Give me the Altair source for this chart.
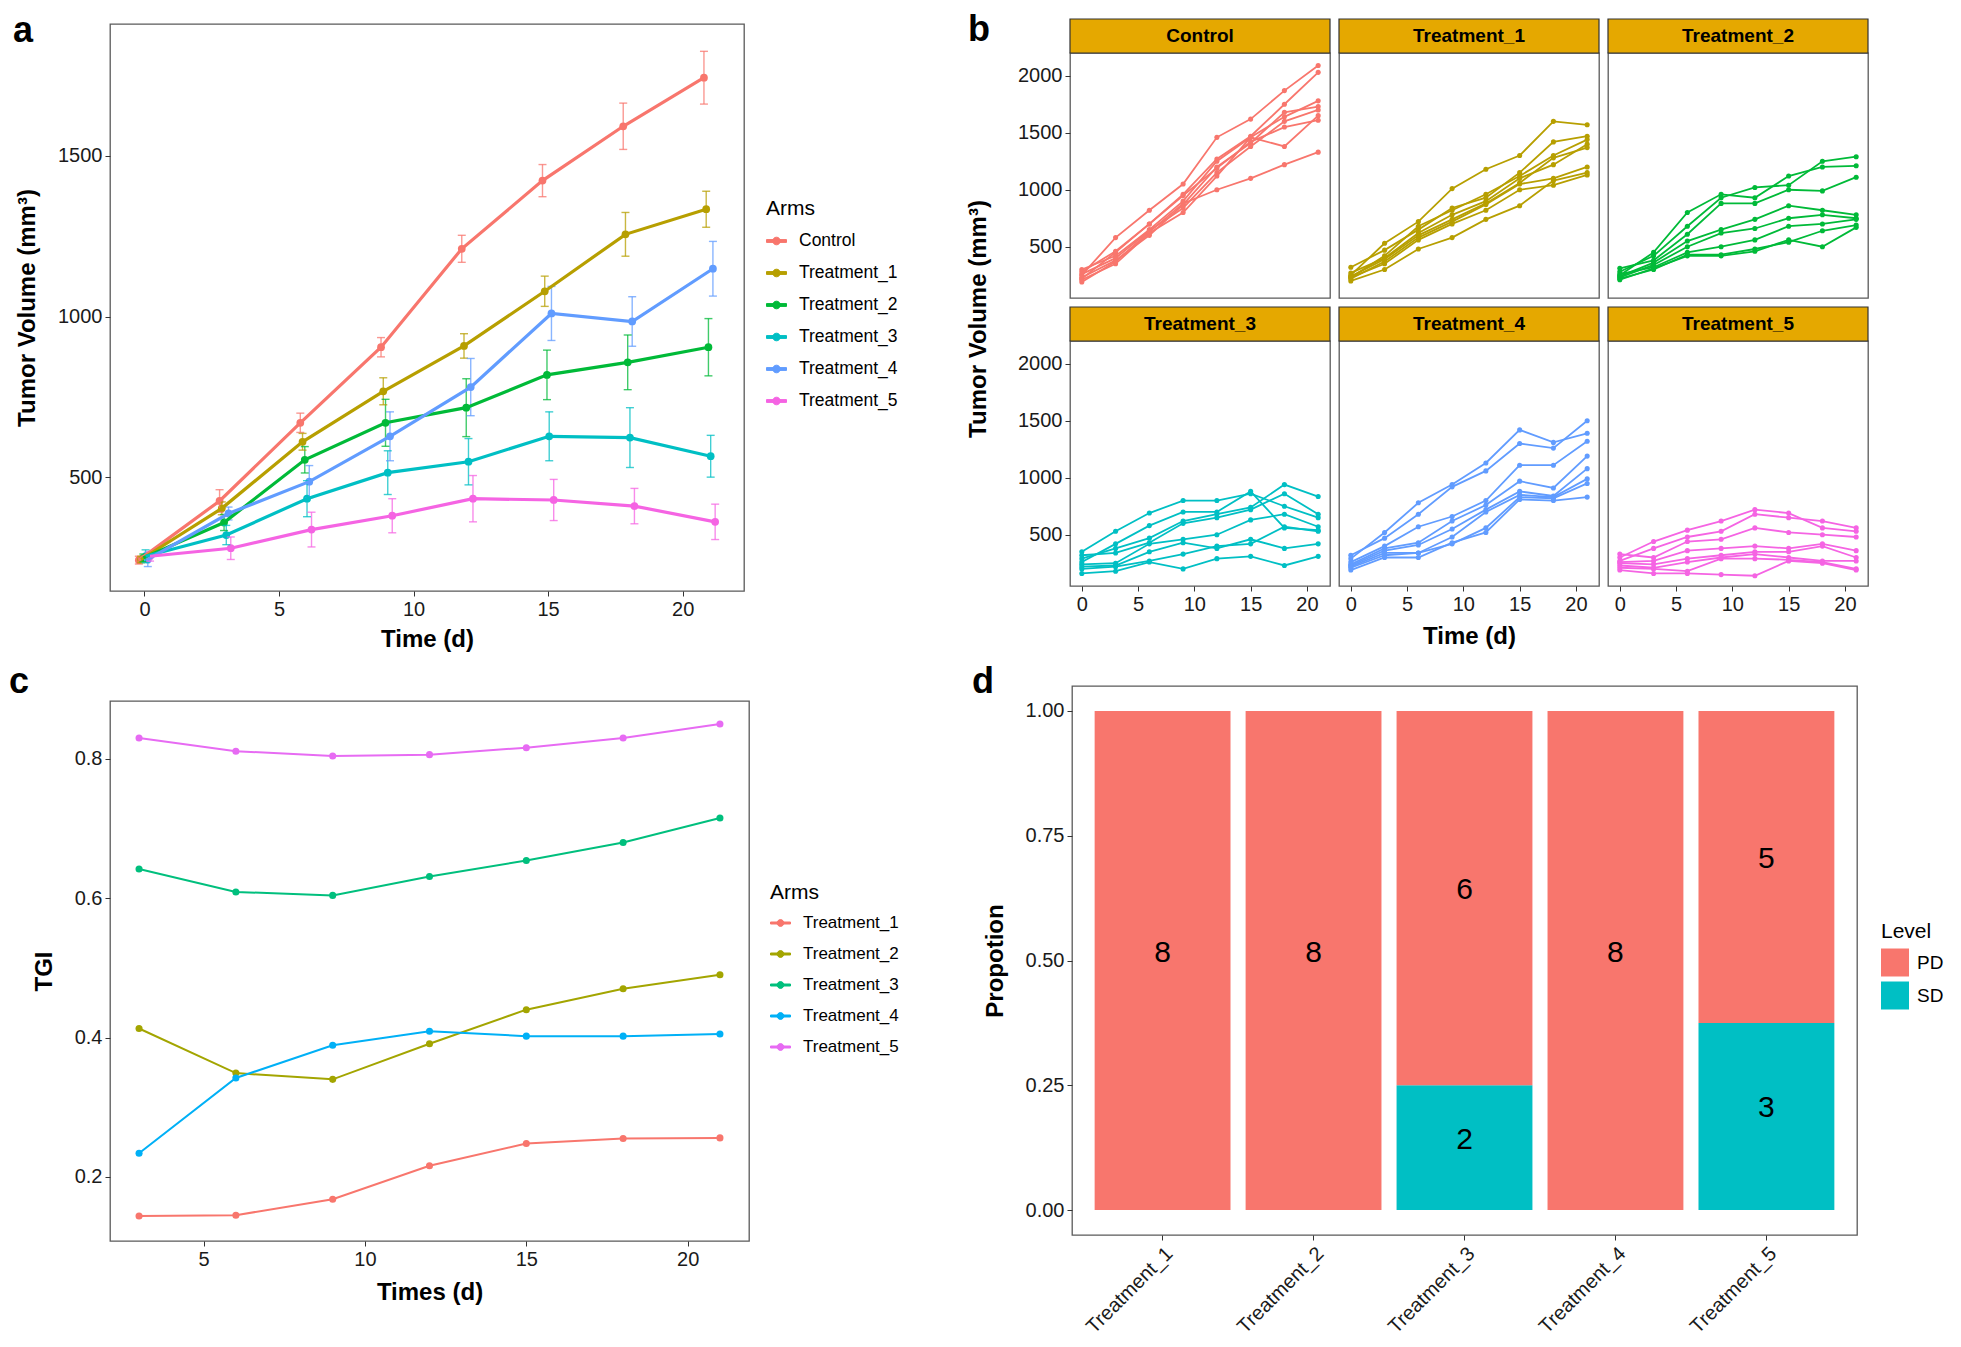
import altair as alt
import pandas as pd

FONT = "Liberation Sans"
TIMES = [0, 3, 6, 9, 12, 15, 18, 21]
ARMS6 = ["Control", "Treatment_1", "Treatment_2", "Treatment_3", "Treatment_4", "Treatment_5"]
ARMS5 = ["Treatment_1", "Treatment_2", "Treatment_3", "Treatment_4", "Treatment_5"]
COLORS6 = ["#F8766D", "#B79F00", "#00BA38", "#00BFC4", "#619CFF", "#F564E3"]
COLORS5 = ["#F8766D", "#A3A500", "#00BF7D", "#00B0F6", "#E76BF3"]
LEVELS = ["PD", "SD"]
LEVEL_COLORS = ["#F8766D", "#00BFC4"]
STRIP = "#E5A800"

# ---- (a) mean tumour volume and error-bar half width per arm
MEAN_CONTROL = [243, 427, 670, 905, 1211, 1423, 1592, 1743]
MEAN_T1 = [245, 404, 611, 768, 909, 1079, 1256, 1334]
MEAN_T2 = [250, 360, 555, 670, 717, 819, 858, 905]
MEAN_T3 = [255, 321, 434, 515, 549, 628, 624, 566]
MEAN_T4 = [245, 388, 487, 628, 781, 1010, 985, 1149]
MEAN_T5 = [255, 280, 338, 381, 434, 430, 411, 362]
ERR_CONTROL = [12, 35, 30, 30, 42, 50, 72, 82]
ERR_T1 = [10, 20, 26, 42, 38, 47, 68, 56]
ERR_T2 = [12, 25, 41, 73, 90, 77, 85, 89]
ERR_T3 = [20, 30, 56, 68, 72, 76, 93, 65]
ERR_T4 = [22, 20, 50, 76, 89, 84, 77, 85]
ERR_T5 = [15, 35, 54, 53, 72, 64, 55, 55]

# ---- (b) individual mice
MICE_CONTROL = [
    [250, 580, 820, 1050, 1460, 1620, 1870, 2090],
    [220, 450, 700, 960, 1270, 1470, 1750, 2030],
    [300, 420, 650, 900, 1250, 1460, 1640, 1780],
    [230, 380, 600, 870, 1200, 1410, 1680, 1730],
    [260, 400, 640, 840, 1150, 1380, 1600, 1700],
    [210, 350, 620, 800, 1120, 1460, 1380, 1650],
    [280, 460, 700, 950, 1190, 1420, 1550, 1610],
    [190, 370, 630, 880, 1000, 1100, 1220, 1330],
]
MICE_T1 = [
    [250, 530, 720, 1010, 1180, 1300, 1600, 1570],
    [320, 470, 650, 840, 930, 1150, 1420, 1470],
    [230, 420, 680, 820, 960, 1120, 1300, 1440],
    [270, 400, 620, 780, 900, 1100, 1220, 1400],
    [240, 390, 600, 740, 880, 1060, 1280, 1370],
    [220, 370, 580, 720, 870, 1050, 1100, 1200],
    [230, 350, 560, 700, 820, 1000, 1040, 1130],
    [200, 300, 480, 580, 740, 860, 1080, 1150],
]
MICE_T2 = [
    [280, 420, 680, 930, 1020, 1040, 1250, 1290],
    [250, 450, 800, 960, 930, 1120, 1200, 1210],
    [310, 380, 610, 880, 880, 1000, 990, 1110],
    [240, 360, 550, 650, 740, 860, 820, 780],
    [230, 340, 500, 620, 660, 750, 780, 750],
    [260, 320, 450, 500, 560, 680, 700, 740],
    [220, 300, 430, 430, 480, 540, 640, 690],
    [210, 310, 420, 420, 460, 560, 500, 670],
]
MICE_T3 = [
    [350, 530, 690, 800, 800, 860, 750, 650],
    [260, 420, 580, 700, 700, 880, 560, 540],
    [290, 380, 470, 620, 680, 740, 940, 835],
    [320, 340, 430, 600, 650, 720, 860, 680],
    [240, 250, 420, 460, 500, 630, 680, 570],
    [220, 230, 350, 430, 380, 460, 380, 420],
    [200, 220, 270, 330, 400, 420, 570, 530],
    [160, 180, 260, 200, 290, 310, 230, 310],
]
MICE_T4 = [
    [290, 520, 780, 940, 1130, 1420, 1310, 1390],
    [320, 470, 680, 920, 1060, 1300, 1260, 1500],
    [260, 400, 570, 660, 800, 1110, 1110, 1320],
    [240, 380, 430, 620, 760, 970, 910, 1190],
    [230, 360, 410, 550, 720, 880, 840, 1080],
    [220, 340, 340, 480, 700, 850, 830, 990],
    [210, 320, 340, 420, 560, 830, 820, 950],
    [190, 300, 300, 430, 520, 810, 800, 830],
]
MICE_T5 = [
    [300, 440, 540, 620, 720, 690, 560, 530],
    [270, 380, 480, 530, 680, 650, 620, 560],
    [330, 300, 440, 460, 560, 520, 500, 480],
    [260, 270, 360, 380, 400, 380, 420, 360],
    [250, 240, 290, 320, 350, 350, 400, 300],
    [230, 210, 260, 300, 330, 300, 270, 270],
    [210, 200, 180, 290, 290, 280, 260, 200],
    [190, 160, 160, 150, 140, 270, 250, 190],
]

# ---- (c) TGI
TGI_TIMES = [3, 6, 9, 12, 15, 18, 21]
TGI_T1 = [0.144, 0.145, 0.168, 0.216, 0.248, 0.255, 0.256]
TGI_T2 = [0.413, 0.349, 0.340, 0.391, 0.440, 0.470, 0.490]
TGI_T3 = [0.642, 0.609, 0.604, 0.631, 0.654, 0.680, 0.715]
TGI_T4 = [0.234, 0.342, 0.389, 0.409, 0.402, 0.402, 0.405]
TGI_T5 = [0.830, 0.811, 0.804, 0.806, 0.816, 0.830, 0.850]

# ---- (d) response counts
PD_COUNTS = [8, 8, 6, 8, 5]
SD_COUNTS = [0, 0, 2, 0, 3]

LEG_PATH_A = "M-1,-0.14L1,-0.14L1,0.14L-1,0.14Z M0.38,0A0.38,0.38,0,1,1,-0.38,0A0.38,0.38,0,1,1,0.38,0Z"
LEG_PATH_C = "M-1,-0.1L1,-0.1L1,0.1L-1,0.1Z M0.34,0A0.34,0.34,0,1,1,-0.34,0A0.34,0.34,0,1,1,0.34,0Z"


def tag(letter, x, y):
    return alt.Chart(pd.DataFrame({"tag": [letter]})).mark_text(
        font=FONT, fontSize=36, fontWeight="bold", align="left",
        baseline="alphabetic", color="black"
    ).encode(x=alt.value(x), y=alt.value(y), text="tag:N")


def spacer():
    return alt.Chart(pd.DataFrame({"s": pd.Series([], dtype="float")})).mark_point(opacity=0).encode(
        x=alt.value(0), y=alt.value(0)
    ).properties(width=1, height=1, view=alt.ViewBackground(stroke="transparent"))


# ================= panel a =================
W_A, H_A = 634, 567
MEANS_A = [MEAN_CONTROL, MEAN_T1, MEAN_T2, MEAN_T3, MEAN_T4, MEAN_T5]
ERRS_A = [ERR_CONTROL, ERR_T1, ERR_T2, ERR_T3, ERR_T4, ERR_T5]
a_rows = []
for i, arm in enumerate(ARMS6):
    for t, m, e in zip(TIMES, MEANS_A[i], ERRS_A[i]):
        a_rows.append({"arm_a": arm, "t": t + (i - 2.5) * 0.0833, "v": m, "lo": m - e, "hi": m + e})
df_a = pd.DataFrame(a_rows)

xa = alt.X("t:Q", scale=alt.Scale(domain=[-1.28, 22.28], nice=False, zero=False),
           axis=alt.Axis(values=[0, 5, 10, 15, 20], title="Time (d)", titlePadding=8))


def ya(field):
    return alt.Y(field, scale=alt.Scale(domain=[147, 1910], nice=False, zero=False),
                 axis=alt.Axis(values=[500, 1000, 1500], format="d",
                               title="Tumor Volume (mm³)", titlePadding=18))


LEG_A = alt.Legend(title="Arms", orient="none", legendX=W_A + 22, legendY=173.5,
                   symbolType=LEG_PATH_A, symbolSize=400, symbolStrokeWidth=1,
                   titleFontSize=21, labelFontSize=17.5, rowPadding=13, titlePadding=12,
                   labelOffset=12)
ca = alt.Color("arm_a:N", scale=alt.Scale(domain=ARMS6, range=COLORS6), legend=LEG_A)

base_a = alt.Chart(df_a)
a_pt = base_a.mark_circle(size=60, opacity=1).encode(x=xa, y=ya("v:Q"), color=ca)
a_err = base_a.mark_rule(strokeWidth=1.4, opacity=0.75).encode(x=xa, y=ya("lo:Q"), y2="hi:Q", color=ca)
a_cap_lo = base_a.mark_tick(orient="horizontal", size=8, thickness=1.4, opacity=0.75).encode(
    x=xa, y=ya("lo:Q"), color=ca)
a_cap_hi = base_a.mark_tick(orient="horizontal", size=8, thickness=1.4, opacity=0.75).encode(
    x=xa, y=ya("hi:Q"), color=ca)
a_line = base_a.mark_line(strokeWidth=3.2).encode(x=xa, y=ya("v:Q"), color=ca)
panel_a = alt.layer(a_pt, a_err, a_cap_lo, a_cap_hi, a_line, tag("a", -97, 17.5)).properties(
    width=W_A, height=H_A)

# ================= panel b =================
W_B, H_B, STRIP_H = 260, 245, 34
MICE_B = [MICE_CONTROL, MICE_T1, MICE_T2, MICE_T3, MICE_T4, MICE_T5]


def b_cell(idx):
    arm = ARMS6[idx]
    colr = COLORS6[idx]
    rows = []
    for k, series in enumerate(MICE_B[idx], start=1):
        for t, v in zip(TIMES, series):
            rows.append({"mouse": k, "t": t, "v": v})
    df = pd.DataFrame(rows)
    r, c = divmod(idx, 3)
    x_axis = alt.Axis(values=[0, 5, 10, 15, 20], title="Time (d)" if idx == 4 else None,
                      titlePadding=10) if r == 1 else None
    y_axis = alt.Axis(values=[500, 1000, 1500, 2000], format="d", title=None) if c == 0 else None
    x = alt.X("t:Q", scale=alt.Scale(domain=[-1.05, 22.05], nice=False, zero=False), axis=x_axis)
    y = alt.Y("v:Q", scale=alt.Scale(domain=[50, 2200], nice=False, zero=False), axis=y_axis)
    lines = alt.Chart(df).mark_line(color=colr, strokeWidth=1.8).encode(x=x, y=y, detail="mouse:N")
    pts = alt.Chart(df).mark_circle(color=colr, size=26, opacity=1).encode(x=x, y=y)
    sdf = pd.DataFrame({"label": [arm]})
    strip = alt.Chart(sdf).mark_rect(fill=STRIP, stroke="#333333", strokeWidth=1.2).encode(
        x=alt.value(0), x2=alt.value(W_B), y=alt.value(-STRIP_H), y2=alt.value(0))
    strip_txt = alt.Chart(sdf).mark_text(font=FONT, fontSize=19, fontWeight="bold", color="black",
                                         baseline="middle").encode(
        x=alt.value(W_B / 2), y=alt.value(-STRIP_H / 2), text="label:N")
    layers = [strip, strip_txt, lines, pts]
    if idx == 0:
        layers.append(tag("b", -102, -12))
        ytitle = alt.Chart(pd.DataFrame({"lab": ["Tumor Volume (mm³)"]})).mark_text(
            font=FONT, fontSize=24, fontWeight="bold", angle=270, align="center",
            baseline="middle", color="black").encode(
            x=alt.value(-91), y=alt.value(266), text="lab:N")
        layers.append(ytitle)
    return alt.layer(*layers).properties(width=W_B, height=H_B)


panel_b = alt.concat(*[b_cell(i) for i in range(6)], columns=3,
                     spacing={"row": 43, "column": 9}, bounds="flush").resolve_scale(
    x="independent", y="independent")

# ================= panel c =================
W_C, H_C = 639, 540
TGI_ALL = [TGI_T1, TGI_T2, TGI_T3, TGI_T4, TGI_T5]
c_rows = []
for arm, vals in zip(ARMS5, TGI_ALL):
    for t, v in zip(TGI_TIMES, vals):
        c_rows.append({"arm_c": arm, "t": t, "tgi": v})
df_c = pd.DataFrame(c_rows)
xc = alt.X("t:Q", scale=alt.Scale(domain=[2.1, 21.9], nice=False, zero=False),
           axis=alt.Axis(values=[5, 10, 15, 20], title="Times (d)", titlePadding=11))
yc = alt.Y("tgi:Q", scale=alt.Scale(domain=[0.108, 0.883], nice=False, zero=False),
           axis=alt.Axis(values=[0.2, 0.4, 0.6, 0.8], format=".1f", title="TGI", titlePadding=18))
LEG_C = alt.Legend(title="Arms", orient="none", legendX=W_C + 21, legendY=180.5,
                   symbolType=LEG_PATH_C, symbolSize=400, symbolStrokeWidth=1,
                   titleFontSize=21, labelFontSize=17, rowPadding=12, titlePadding=10,
                   labelOffset=12)
cc = alt.Color("arm_c:N", scale=alt.Scale(domain=ARMS5, range=COLORS5), legend=LEG_C)

base_c = alt.Chart(df_c)
c_pt = base_c.mark_circle(size=50, opacity=1).encode(x=xc, y=yc, color=cc)
c_line = base_c.mark_line(strokeWidth=2).encode(x=xc, y=yc, color=cc)
panel_c = alt.layer(c_pt, c_line, tag("c", -101, -8)).properties(width=W_C, height=H_C)

# ================= panel d =================
W_D, H_D = 785, 549
d_rows = []
for arm, npd, nsd in zip(ARMS5, PD_COUNTS, SD_COUNTS):
    if nsd > 0:
        d_rows.append({"arm_d": arm, "level": "SD", "ord": 0, "n": nsd})
    if npd > 0:
        d_rows.append({"arm_d": arm, "level": "PD", "ord": 1, "n": npd})
df_d = pd.DataFrame(d_rows)
base_d = alt.Chart(df_d).transform_stack(
    stack="n", groupby=["arm_d"], as_=["y0", "y1"], offset="normalize",
    sort=[alt.SortField(field="ord", order="ascending")]
).transform_calculate(mid="(datum.y0 + datum.y1) / 2")
xd = alt.X("arm_d:N", sort=ARMS5, scale=alt.Scale(paddingInner=0.1, paddingOuter=0.15),
           axis=alt.Axis(title=None, labelAngle=-45, labelAlign="right", labelBaseline="top",
                         labelPadding=3))


def yd(field):
    return alt.Y(field, scale=alt.Scale(domain=[-0.05, 1.05], nice=False, zero=False),
                 axis=alt.Axis(values=[0, 0.25, 0.5, 0.75, 1.0], format=".2f",
                               title="Propotion", titlePadding=18))


d_bar = base_d.mark_bar().encode(
    x=xd, y=yd("y0:Q"), y2="y1:Q",
    color=alt.Color("level:N", scale=alt.Scale(domain=LEVELS, range=LEVEL_COLORS),
                    legend=alt.Legend(title="Level", orient="none", legendX=W_D + 24, legendY=234.5,
                                      symbolType="square", symbolSize=784, symbolStrokeWidth=0,
                                      titleFontSize=21, labelFontSize=19, rowPadding=5,
                                      titlePadding=7, labelOffset=8)))
d_txt = base_d.mark_text(font=FONT, fontSize=30, color="black", baseline="middle", dy=-8).encode(
    x=xd, y=yd("mid:Q"), text="n:Q")
panel_d = alt.layer(d_bar, d_txt, tag("d", -100, 7)).properties(width=W_D, height=H_D)

# ================= assemble =================
RS = dict(color="independent", x="independent", y="independent")
wrap_a = alt.vconcat(spacer(), panel_a, spacing=0).resolve_scale(**RS)
wrap_b = alt.vconcat(spacer(), panel_b, spacing=0).resolve_scale(**RS)
wrap_c = alt.vconcat(spacer(), panel_c, spacing=0).resolve_scale(**RS)
wrap_d = alt.vconcat(spacer(), panel_d, spacing=0).resolve_scale(**RS)

top = alt.hconcat(wrap_a, wrap_b, spacing=67).resolve_scale(**RS).resolve_legend(color="independent")
bottom = alt.hconcat(wrap_c, wrap_d, spacing=71).resolve_scale(**RS).resolve_legend(color="independent")
chart = alt.vconcat(top, bottom, spacing=8).resolve_scale(**RS).resolve_legend(
    color="independent").properties(padding=0).configure(font=FONT).configure_view(
    stroke="#5a5a5a", strokeWidth=1.3).configure_axis(
    grid=False, domain=False, tickColor="#333333", tickSize=5, tickWidth=1,
    labelFont=FONT, labelFontSize=20, labelColor="#1a1a1a", labelPadding=3,
    titleFont=FONT, titleFontSize=24, titleFontWeight="bold", titleColor="#000000").configure_legend(
    titleFont=FONT, labelFont=FONT, titleFontWeight="normal", titleColor="#000000",
    labelColor="#000000")

chart.save("out.html", embed_options={"renderer": "svg", "actions": False})
